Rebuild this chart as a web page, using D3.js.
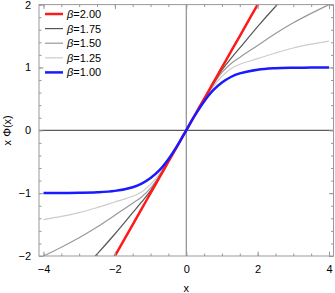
<!DOCTYPE html>
<html>
<head>
  <meta charset="utf-8">
  <title>x Phi(x)</title>
  <style>
    body { margin: 0; background: #fff; }
    text { font-family: "Liberation Sans", Arial, sans-serif; }
  </style>
</head>
<body>
  <div id='chart'></div>
  <script src="https://d3js.org/d3.v7.min.js"></script>
  <script>

    function translate(x, y) {
      return 'translate(' + x + ',' + y + ')';
    }

    // ---------------------------------------------------------- data
    let xs = [-4, -3.5, -3, -2.5, -2, -1.5, -1.25, -1, -0.75, -0.5, -0.25, 0,
              0.25, 0.5, 0.75, 1, 1.25, 1.5, 2, 2.5, 3, 3.5, 4];

    let betaLabels = ['2.00', '1.75', '1.50', '1.25', '1.00'];

    let y200 = [-4, -3.5, -3, -2.5, -2, -1.5, -1.25, -1, -0.75, -0.5, -0.25, 0,
                0.25, 0.5, 0.75, 1, 1.25, 1.5, 2, 2.5, 3, 3.5, 4];
    let y175 = [-2.83, -2.56, -2.27, -1.97, -1.65, -1.31, -1.14, -0.96, -0.735, -0.495, -0.25, 0,
                0.25, 0.495, 0.735, 0.96, 1.14, 1.31, 1.65, 1.97, 2.27, 2.56, 2.83];
    let y150 = [-2.0, -1.86, -1.71, -1.54, -1.35, -1.16, -1.06, -0.92, -0.72, -0.49, -0.25, 0,
                0.25, 0.49, 0.72, 0.92, 1.06, 1.16, 1.35, 1.54, 1.71, 1.86, 2.0];
    let y125 = [-1.42, -1.37, -1.31, -1.23, -1.14, -1.05, -0.98, -0.86, -0.69, -0.48, -0.25, 0,
                0.25, 0.48, 0.69, 0.86, 0.98, 1.05, 1.14, 1.23, 1.31, 1.37, 1.42];
    let y100 = [-0.999, -0.998, -0.995, -0.987, -0.964, -0.905, -0.848, -0.76, -0.635, -0.46, -0.245, 0,
                0.245, 0.46, 0.635, 0.76, 0.848, 0.905, 0.964, 0.987, 0.995, 0.998, 0.999];

    let seriesValues = [y200, y175, y150, y125, y100];
    let seriesColors = ['#ff1a1a', '#555555', '#999999', '#cccccc', '#1a1aff'];
    let seriesWidths = [2.5, 1.2, 1.2, 1.2, 2.5];

    let xTicks = [-4, -2, 0, 2, 4];
    let yTicks = [-2, -1, 0, 1, 2];

    // ---------------------------------------------------------- layout
    let svgWidth = 335;
    let svgHeight = 293;
    let frame = {left: 39, right: 333.5, top: 4.6, bottom: 256};

    let svg = d3.select('#chart')
      .append('svg')
      .attr('width', svgWidth)
      .attr('height', svgHeight);

    let x = d3.scaleLinear()
      .domain([-4.126, 4.126])
      .range([frame.left, frame.right]);

    let y = d3.scaleLinear()
      .domain([-2, 2])
      .range([frame.bottom, frame.top]);

    let xMinor = d3.range(-4, 4.01, 0.5);
    let yMinor = d3.range(-2, 2.01, 0.2).map(d => Math.round(d * 10) / 10);

    svg.append('clipPath')
      .attr('id', 'clip')
      .append('rect')
      .attr('x', frame.left)
      .attr('y', frame.top)
      .attr('width', frame.right - frame.left)
      .attr('height', frame.bottom - frame.top);

    // zero lines
    svg.append('line')
      .attr('x1', x(0)).attr('x2', x(0))
      .attr('y1', frame.top).attr('y2', frame.bottom)
      .style('stroke', '#777').style('stroke-width', 1);

    svg.append('line')
      .attr('x1', frame.left).attr('x2', frame.right)
      .attr('y1', y(0)).attr('y2', y(0))
      .style('stroke', '#333').style('stroke-width', 1);

    // curves
    let line = d3.line()
      .x((d, i) => x(xs[i]))
      .y(d => y(d))
      .curve(d3.curveCatmullRom);

    let curves = svg.append('g').attr('clip-path', 'url(#clip)');
    [3, 2, 1, 0, 4].forEach(function(k) {
      curves.append('path')
        .datum(seriesValues[k])
        .attr('d', line)
        .style('fill', 'none')
        .style('stroke', seriesColors[k])
        .style('stroke-width', seriesWidths[k]);
    });

    // frame and ticks
    function styleAxis(g) {
      g.select('.domain').remove();
      g.selectAll('.tick line').style('stroke', '#999');
      g.selectAll('.tick text')
        .style('font-size', '11px')
        .style('fill', '#000')
        .style('font-family', '"Liberation Sans", Arial, sans-serif');
    }

    svg.append('g')
      .attr('transform', translate(0, frame.bottom))
      .call(d3.axisBottom(x).tickValues(xMinor).tickSize(-2.5).tickFormat(''))
      .call(styleAxis);
    svg.append('g')
      .attr('transform', translate(0, frame.bottom))
      .call(d3.axisBottom(x).tickValues(xTicks).tickSize(-4.5).tickPadding(9)
        .tickFormat(d => d < 0 ? '\u2212' + Math.abs(d) : d))
      .call(styleAxis);
    svg.append('g')
      .attr('transform', translate(0, frame.top))
      .call(d3.axisTop(x).tickValues(xMinor).tickSize(-2.5).tickFormat(''))
      .call(styleAxis);
    svg.append('g')
      .attr('transform', translate(0, frame.top))
      .call(d3.axisTop(x).tickValues(xTicks).tickSize(-4.5).tickFormat(''))
      .call(styleAxis);

    svg.append('g')
      .attr('transform', translate(frame.left, 0))
      .call(d3.axisLeft(y).tickValues(yMinor).tickSize(-2.5).tickFormat(''))
      .call(styleAxis);
    svg.append('g')
      .attr('transform', translate(frame.left, 0))
      .call(d3.axisLeft(y).tickValues(yTicks).tickSize(-4.5).tickPadding(8)
        .tickFormat(d => d < 0 ? '\u2212' + Math.abs(d) : d))
      .call(styleAxis);
    svg.append('g')
      .attr('transform', translate(frame.right, 0))
      .call(d3.axisRight(y).tickValues(yMinor).tickSize(-2.5).tickFormat(''))
      .call(styleAxis);
    svg.append('g')
      .attr('transform', translate(frame.right, 0))
      .call(d3.axisRight(y).tickValues(yTicks).tickSize(-4.5).tickFormat(''))
      .call(styleAxis);

    svg.append('rect')
      .attr('x', frame.left)
      .attr('y', frame.top)
      .attr('width', frame.right - frame.left)
      .attr('height', frame.bottom - frame.top)
      .style('fill', 'none')
      .style('stroke', '#999')
      .style('stroke-width', 1);

    // axis labels
    svg.append('text')
      .attr('x', x(0))
      .attr('y', 292)
      .attr('text-anchor', 'middle')
      .style('font-size', '11px')
      .text('x');

    svg.append('text')
      .attr('transform', translate(11, y(0)) + ' rotate(-90)')
      .attr('text-anchor', 'middle')
      .style('font-size', '11px')
      .text('x \u03A6(x)');

    // legend
    let legend = svg.append('g').attr('transform', translate(45, 14));
    betaLabels.forEach(function(b, i) {
      let row = legend.append('g').attr('transform', translate(0, i * 14.6));
      row.append('line')
        .attr('x1', 0).attr('x2', 18)
        .attr('y1', 0).attr('y2', 0)
        .style('stroke', seriesColors[i])
        .style('stroke-width', seriesWidths[i]);
      let t = row.append('text')
        .attr('x', 22)
        .attr('y', 4)
        .style('font-size', '11px');
      t.append('tspan').style('font-style', 'italic').text('\u03B2');
      t.append('tspan').text('=' + b);
    });

  </script>
</body>
</html>
